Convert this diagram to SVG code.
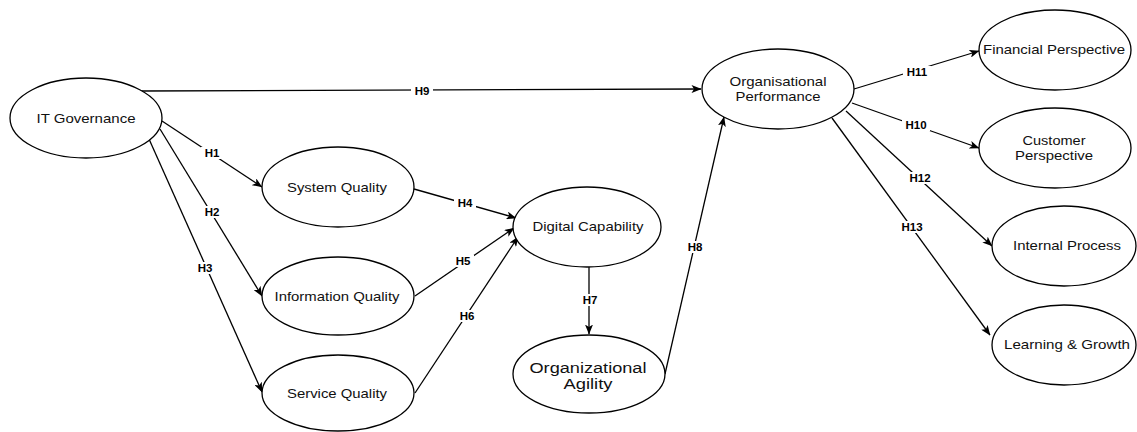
<svg xmlns="http://www.w3.org/2000/svg" width="1137" height="432" viewBox="0 0 1137 432">
  <style>
    .node ellipse { fill: #fff; stroke: #000; stroke-width: 1.3; }
    .node text { font-family: "Liberation Sans", Arial, sans-serif; font-size: 13px; fill: #111; text-anchor: middle; }
    .node text.big { font-size: 15.5px; }
    #connectors line { stroke: #000; stroke-width: 1.3; marker-end: url(#arrow); }
    #connectors .lbl rect { fill: #fff; }
    #connectors .lbl text { font-family: "Liberation Sans", Arial, sans-serif; font-size: 11.5px; font-weight: bold; fill: #000; text-anchor: middle; }
  </style>
  <defs>
    <marker id="arrow" viewBox="0 0 10 8" refX="9.5" refY="4" markerWidth="10" markerHeight="8" markerUnits="userSpaceOnUse" orient="auto">
      <path d="M0,0 L10,4 L0,8 L2.5,4 z" fill="#000"/>
    </marker>
  </defs>
  <rect width="1137" height="432" fill="#fff"/>

  <g id="connectors">
    <line x1="140" y1="91" x2="701" y2="89"/>
    <line x1="162" y1="121" x2="262" y2="187"/>
    <line x1="160" y1="129" x2="262" y2="296"/>
    <line x1="149" y1="139" x2="262" y2="392"/>
    <line x1="414" y1="189" x2="516" y2="218"/>
    <line x1="415" y1="296" x2="514" y2="228"/>
    <line x1="415" y1="393" x2="518" y2="237"/>
    <line x1="589" y1="267" x2="589" y2="334"/>
    <line x1="665" y1="374" x2="724" y2="117"/>
    <line x1="854" y1="89" x2="979" y2="51"/>
    <line x1="852" y1="103" x2="979" y2="148"/>
    <line x1="846" y1="111" x2="992" y2="246"/>
    <line x1="832" y1="118" x2="990" y2="335"/>

    <g class="lbl"><rect x="411" y="85" width="22" height="12"/><text x="422" y="95">H9</text></g>
    <g class="lbl"><rect x="201" y="147" width="22" height="12"/><text x="212" y="157">H1</text></g>
    <g class="lbl"><rect x="201" y="206" width="22" height="12"/><text x="212" y="216">H2</text></g>
    <g class="lbl"><rect x="194" y="262" width="22" height="12"/><text x="205" y="272">H3</text></g>
    <g class="lbl"><rect x="454" y="197" width="22" height="12"/><text x="465" y="207">H4</text></g>
    <g class="lbl"><rect x="452" y="255" width="22" height="12"/><text x="463" y="265">H5</text></g>
    <g class="lbl"><rect x="456" y="310" width="22" height="12"/><text x="467" y="320">H6</text></g>
    <g class="lbl"><rect x="579" y="294" width="22" height="12"/><text x="590" y="304">H7</text></g>
    <g class="lbl"><rect x="684" y="241" width="22" height="12"/><text x="695" y="251">H8</text></g>
    <g class="lbl"><rect x="903" y="66" width="28" height="12"/><text x="917" y="76">H11</text></g>
    <g class="lbl"><rect x="902" y="119" width="28" height="12"/><text x="916" y="129">H10</text></g>
    <g class="lbl"><rect x="906" y="172" width="28" height="12"/><text x="920" y="182">H12</text></g>
    <g class="lbl"><rect x="898" y="221" width="28" height="12"/><text x="912" y="231">H13</text></g>
  </g>

  <g id="it-governance" class="node">
    <ellipse cx="86" cy="118" rx="76" ry="40"/>
    <text x="86" y="123" textLength="99" lengthAdjust="spacingAndGlyphs">IT Governance</text>
  </g>
  <g id="system-quality" class="node">
    <ellipse cx="338" cy="187" rx="76" ry="40"/>
    <text x="337" y="192" textLength="100" lengthAdjust="spacingAndGlyphs">System Quality</text>
  </g>
  <g id="information-quality" class="node">
    <ellipse cx="338" cy="296" rx="76" ry="39"/>
    <text x="337" y="301" textLength="125" lengthAdjust="spacingAndGlyphs">Information Quality</text>
  </g>
  <g id="service-quality" class="node">
    <ellipse cx="338" cy="393" rx="76" ry="38"/>
    <text x="337" y="398" textLength="100" lengthAdjust="spacingAndGlyphs">Service Quality</text>
  </g>
  <g id="digital-capability" class="node">
    <ellipse cx="587" cy="227" rx="74" ry="40"/>
    <text x="588" y="231" textLength="111" lengthAdjust="spacingAndGlyphs">Digital Capability</text>
  </g>
  <g id="organizational-agility" class="node">
    <ellipse cx="589" cy="374" rx="76" ry="39"/>
    <text class="big" x="588" y="373" textLength="117" lengthAdjust="spacingAndGlyphs">Organizational</text>
    <text class="big" x="588" y="389" textLength="49" lengthAdjust="spacingAndGlyphs">Agility</text>
  </g>
  <g id="organisational-performance" class="node">
    <ellipse cx="778" cy="89" rx="76" ry="40"/>
    <text x="778" y="86" textLength="97" lengthAdjust="spacingAndGlyphs">Organisational</text>
    <text x="778" y="101" textLength="85" lengthAdjust="spacingAndGlyphs">Performance</text>
  </g>
  <g id="financial-perspective" class="node">
    <ellipse cx="1055" cy="50" rx="76" ry="40"/>
    <text x="1054" y="54" textLength="142" lengthAdjust="spacingAndGlyphs">Financial Perspective</text>
  </g>
  <g id="customer-perspective" class="node">
    <ellipse cx="1055" cy="148" rx="76" ry="40"/>
    <text x="1054" y="145" textLength="63" lengthAdjust="spacingAndGlyphs">Customer</text>
    <text x="1054" y="160" textLength="78" lengthAdjust="spacingAndGlyphs">Perspective</text>
  </g>
  <g id="internal-process" class="node">
    <ellipse cx="1064" cy="246" rx="72" ry="40"/>
    <text x="1067" y="250" textLength="108" lengthAdjust="spacingAndGlyphs">Internal Process</text>
  </g>
  <g id="learning-growth" class="node">
    <ellipse cx="1064" cy="345" rx="72" ry="40"/>
    <text x="1067" y="349" textLength="126" lengthAdjust="spacingAndGlyphs">Learning &amp; Growth</text>
  </g>
</svg>
